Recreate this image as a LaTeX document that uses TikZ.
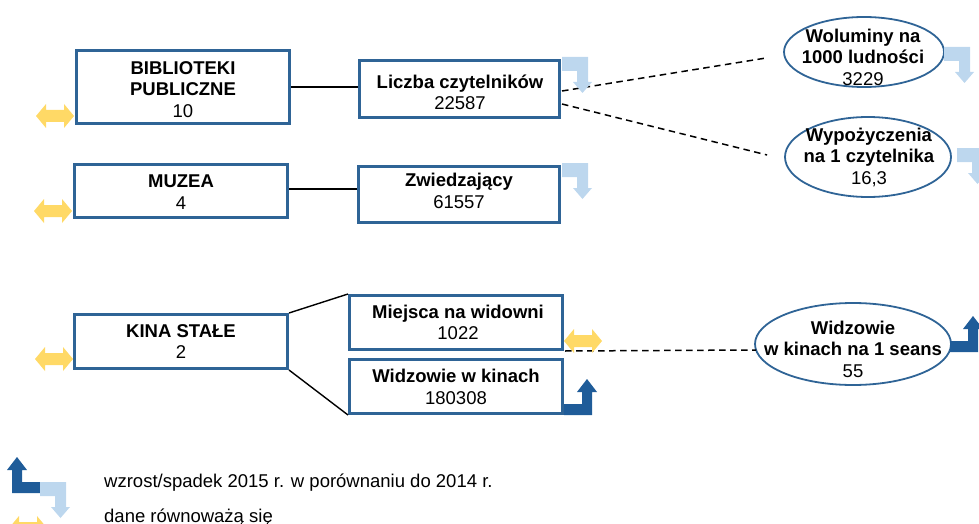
\documentclass[tikz,border=0pt]{standalone}
\usepackage{fontspec}
\setmainfont{Liberation Sans}
\usetikzlibrary{shapes.geometric,calc}
\definecolor{boxblue}{HTML}{2F6496}
\definecolor{darkarr}{HTML}{1F5C99}
\definecolor{lightarr}{HTML}{BDD7EE}
\definecolor{yelarr}{HTML}{FFD966}
\tikzset{
  txt/.style={font=\fontsize{18.5}{21.5}\selectfont, align=center, inner sep=0pt},
  bx/.style={draw=boxblue, line width=3pt, fill=white, inner sep=0pt},
  ell/.style={draw=boxblue, line width=1.8pt, ellipse, inner sep=0pt},
  link/.style={line width=1.4pt, black},
  dlink/.style={line width=1.5pt, black, dash pattern=on 6.5pt off 4.5pt},
  yel/.pic={\fill[yelarr] (-19,0) -- (-9,-12) -- (-9,-6) -- (9,-6) -- (9,-12) -- (19,0) -- (9,12) -- (9,6) -- (-9,6) -- (-9,12) -- cycle;},
  dnarr/.pic={\fill[lightarr] (0,0) -- (26,0) -- (26,25) -- (30,25) -- (20.5,36) -- (11,25) -- (15,25) -- (15,14) -- (0,14) -- cycle;},
  uparr/.pic={\fill[darkarr] (0,0) -- (0,-11) -- (18,-11) -- (18,-23) -- (13,-23) -- (23,-36) -- (33,-23) -- (28,-23) -- (28,0) -- cycle;}
}
\begin{document}
\begin{tikzpicture}[x=1pt,y=-1pt]
\useasboundingbox (0,0) rectangle (979,524);
% boxes
\node[bx, minimum width=213, minimum height=73] (bib) at (183,87) {};
\node[txt] (bibt) at (183,89.5) {\textbf{BIBLIOTEKI}\\\textbf{PUBLICZNE}\\10};
\node[bx, minimum width=213, minimum height=53] (muz) at (181,191) {};
\node[txt] (muzt) at (181,192) {\textbf{MUZEA}\\4};
\node[bx, minimum width=213, minimum height=54] (kin) at (181,341.5) {};
\node[txt] (kint) at (181,341.5) {\textbf{KINA STAŁE}\\2};
\node[bx, minimum width=200, minimum height=57] (lic) at (459.5,89) {};
\node[txt] (lict) at (460,92.5) {\textbf{Liczba czytelników}\\22587};
\node[bx, minimum width=201, minimum height=56] (zwi) at (459,194.5) {};
\node[txt] (zwit) at (459,191) {\textbf{Zwiedzający}\\61557};
\node[bx, minimum width=213, minimum height=54] (mie) at (456,322.5) {};
\node[txt] (miet) at (458,322.5) {\textbf{Miejsca na widowni}\\1022};
\node[bx, minimum width=213, minimum height=54] (wik) at (456,386.5) {};
\node[txt] (wikt) at (456,387) {\textbf{Widzowie w kinach}\\180308};
% ellipses
\node[ell, minimum width=160, minimum height=70] (wol) at (864,52) {};
\node[txt] (wolt) at (863,57) {\textbf{Woluminy na}\\\textbf{1000 ludności}\\3229};
\node[ell, minimum width=166, minimum height=80] (wyp) at (868,157) {};
\node[txt] (wypt) at (869,157) {\textbf{Wypożyczenia}\\\textbf{na 1 czytelnika}\\16,3};
\node[ell, minimum width=196, minimum height=82] (sea) at (853,344) {};
\node[txt] (seat) at (853,349) {\textbf{Widzowie}\\\textbf{w kinach na 1 seans}\\55};
% connectors
\draw[link] (bib.east) -- (bib.east -| lic.west);
\draw[link] ($(muz.east)+(0,-2)$) -- ($(muz.east -| zwi.west)+(0,-2)$);
\draw[link] (kin.north east) -- (mie.north west);
\draw[link] (kin.south east) -- (wik.south west);
\draw[dlink] ($(lic.east)+(1,2)$) -- ($(wol.west)+(-17,6)$);
\draw[dlink] ($(lic.east)+(1,15)$) -- ($(wyp.west)+(-17,-2)$);
\draw[dlink] ($(mie.south east)+(1,0)$) -- ($(sea.west)+(2,6)$);
% change arrows
\pic at (562,57) {dnarr};
\pic at (562,163) {dnarr};
\pic at (944,47) {dnarr};
\pic at (957,148) {dnarr};
\pic at (564,415) {uparr};
\pic at (950,352) {uparr};
\pic at (55,116) {yel};
\pic at (53,211) {yel};
\pic at (54,359) {yel};
\pic at (583,341) {yel};
% legend
\pic[xscale=-1] at (40,493) {uparr};
\pic at (40,482) {dnarr};
\pic at (28,528) {yel};
\node[txt, anchor=base west] (leg1) at (104,487) {wzrost/spadek 2015 r. w porównaniu do 2014 r.};
\node[txt, anchor=base west] (leg2) at (104,522) {dane równoważą się};
\end{tikzpicture}
\end{document}
